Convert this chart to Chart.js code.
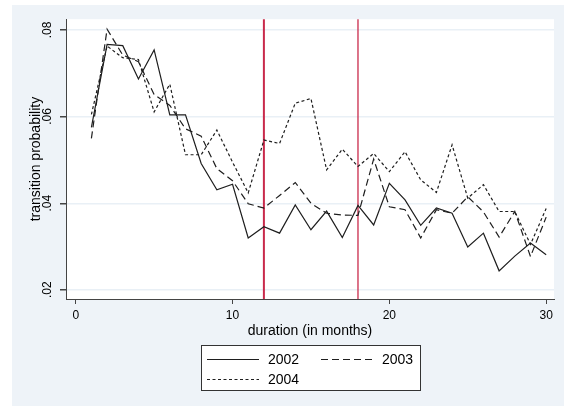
<!DOCTYPE html>
<html>
<head>
<meta charset="utf-8">
<script src="https://cdn.jsdelivr.net/npm/chart.js@4.4.0/dist/chart.umd.min.js"></script>
<style>
  html, body { margin: 0; padding: 0; background: #fff; }
  canvas { display: block; }
</style>
</head>
<body>
<canvas id="chart" width="564" height="406"></canvas>
<script>
// duration in months
var months = [1, 2, 3, 4, 5, 6, 7, 8, 9, 10, 11, 12, 13, 14, 15,
              16, 17, 18, 19, 20, 21, 22, 23, 24, 25, 26, 27, 28, 29, 30];

// transition probability by entry cohort
var rate2002 = [.0575, .0767, .0764, .0687, .0754, .0604, .0604, .0492, .0431, .0444,
                .0320, .0346, .0331, .0396, .0339, .0382, .0321, .0395, .0350, .0446,
                .0408, .0349, .0389, .0377, .0299, .0331, .0244, .0278, .0308, .0281];
var rate2003 = [.0550, .0802, .0742, .0727, .0651, .0626, .0572, .0555, .0480, .0452,
                .0399, .0389, .0418, .0448, .0400, .0377, .0373, .0372, .0502, .0392,
                .0385, .0320, .0385, .0377, .0415, .0380, .0322, .0381, .0277, .0368];
var rate2004 = [.0605, .0763, .0736, .0732, .0611, .0675, .0512, .0512, .0569, .0495,
                .0424, .0546, .0538, .0631, .0642, .0477, .0525, .0485, .0515, .0473,
                .0519, .0454, .0425, .0535, .0412, .0443, .0381, .0381, .0305, .0388];

var cohorts = ['2002', '2003', '2004'];
var cutoffs = [12, 18];
var xTicks = [0, 10, 20, 30];
var yTicks = [.02, .04, .06, .08];

function points(vals) {
    return months.map(function (m, i) { return { x: m, y: vals[i] }; });
}

Chart.defaults.font.family = "'Liberation Sans', Arial, sans-serif";
Chart.defaults.color = '#000';

var backdrop = {
    id: 'backdrop',
    beforeDraw: function (chart) {
        var ctx = chart.ctx, a = chart.chartArea;
        ctx.save();
        ctx.fillStyle = '#fff';
        ctx.fillRect(0, 0, chart.width, chart.height);
        ctx.fillStyle = '#eef3f8';
        ctx.fillRect(12, 5, chart.width - 12, chart.height - 5);
        ctx.fillStyle = '#fff';
        ctx.fillRect(a.left, a.top, a.right - a.left, a.bottom - a.top);
        ctx.restore();
    }
};

var cutoffLines = {
    id: 'cutoffLines',
    beforeDatasetsDraw: function (chart) {
        var ctx = chart.ctx, a = chart.chartArea, xs = chart.scales.x;
        ctx.save();
        ctx.strokeStyle = '#c92a4b';
        cutoffs.forEach(function (c, i) {
            var px = xs.getPixelForValue(c);
            ctx.lineWidth = i === 0 ? 2 : 1.3;
            ctx.beginPath();
            ctx.moveTo(px, a.top);
            ctx.lineTo(px, a.bottom);
            ctx.stroke();
        });
        ctx.restore();
    }
};

var boxLegend = {
    id: 'boxLegend',
    afterDraw: function (chart) {
        var ctx = chart.ctx;
        var sets = chart.data.datasets;
        ctx.save();
        ctx.fillStyle = '#fff';
        ctx.fillRect(201.5, 345.5, 219, 45);
        ctx.strokeStyle = '#333';
        ctx.lineWidth = 1;
        ctx.strokeRect(201.5, 345.5, 219, 45);
        var slots = [[207, 359], [321, 359], [207, 379]];
        ctx.font = "14px 'Liberation Sans', Arial, sans-serif";
        ctx.textBaseline = 'middle';
        sets.forEach(function (ds, i) {
            var s = slots[i];
            ctx.strokeStyle = ds.borderColor;
            ctx.lineWidth = ds.borderWidth;
            ctx.setLineDash(ds.borderDash || []);
            ctx.beginPath();
            ctx.moveTo(s[0], s[1] + 0.5);
            ctx.lineTo(s[0] + 52, s[1] + 0.5);
            ctx.stroke();
            ctx.setLineDash([]);
            ctx.fillStyle = '#000';
            ctx.fillText(ds.label, s[0] + 61, s[1] + 1);
        });
        ctx.restore();
    }
};

new Chart(document.getElementById('chart').getContext('2d'), {
    type: 'line',
    data: {
        datasets: [{
            label: cohorts[0],
            data: points(rate2002),
            borderColor: '#1e1e1e',
            borderWidth: 1.2,
            pointRadius: 0,
            tension: 0
        }, {
            label: cohorts[1],
            data: points(rate2003),
            borderColor: '#1e1e1e',
            borderWidth: 1.2,
            borderDash: [7, 4],
            pointRadius: 0,
            tension: 0
        }, {
            label: cohorts[2],
            data: points(rate2004),
            borderColor: '#1e1e1e',
            borderWidth: 1.2,
            borderDash: [3, 2.5],
            pointRadius: 0,
            tension: 0
        }]
    },
    options: {
        responsive: false,
        animation: false,
        devicePixelRatio: 1,
        layout: { padding: { left: 12, top: 19, right: 10, bottom: 0 } },
        plugins: { legend: { display: false }, tooltip: { enabled: false } },
        scales: {
            x: {
                type: 'linear',
                min: -0.62,
                max: 30.5,
                afterBuildTicks: function (s) {
                    s.ticks = xTicks.map(function (v) { return { value: v }; });
                },
                afterFit: function (s) { s.height = 107; },
                grid: { drawOnChartArea: false, drawTicks: true, tickLength: 5, tickColor: '#444' },
                border: { display: true, color: '#444', width: 1 },
                ticks: { font: { size: 12 }, color: '#000', padding: 4, maxRotation: 0, autoSkip: false },
                title: {
                    display: true,
                    text: 'duration (in months)',
                    font: { size: 14 },
                    color: '#000',
                    padding: { top: 0, bottom: 66 }
                }
            },
            y: {
                type: 'linear',
                min: 0.0179,
                max: 0.0825,
                afterBuildTicks: function (s) {
                    s.ticks = yTicks.map(function (v) { return { value: v }; });
                },
                afterFit: function (s) { s.width = 54; },
                grid: { color: '#e9f0f6', lineWidth: 1.5, drawTicks: true, tickLength: 6, tickColor: '#444' },
                border: { display: true, color: '#444', width: 1 },
                ticks: {
                    font: { size: 12 },
                    color: '#000',
                    padding: 12,
                    minRotation: 90,
                    maxRotation: 90,
                    labelOffset: -8.5,
                    callback: function (v) { return String(v).replace(/^0/, ''); }
                },
                title: {
                    display: true,
                    text: 'transition probability',
                    font: { size: 14 },
                    color: '#000',
                    padding: { top: 16, bottom: 0 }
                }
            }
        }
    },
    plugins: [backdrop, cutoffLines, boxLegend]
});
</script>
</body>
</html>
